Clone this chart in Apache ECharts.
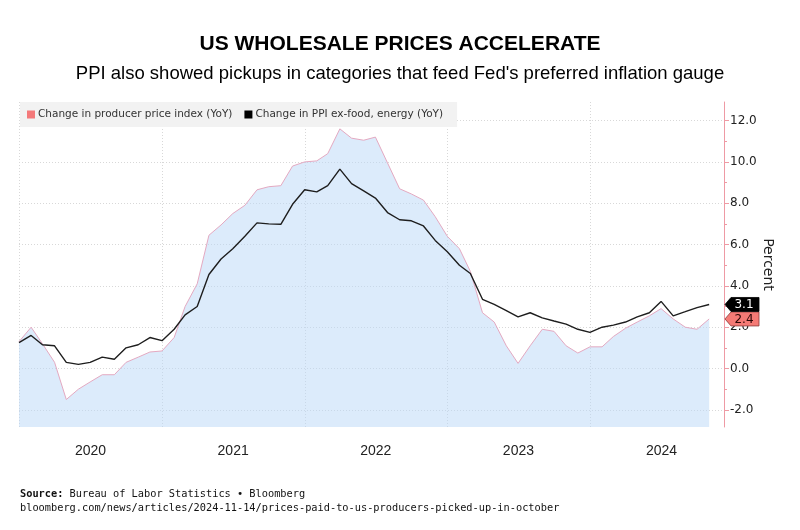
<!DOCTYPE html>
<html><head><meta charset="utf-8">
<script src="https://cdn.jsdelivr.net/npm/echarts@6/dist/echarts.min.js"></script>
<style>html,body{margin:0;padding:0;background:#fff}#c{width:800px;height:530px}</style>
</head><body><div id="c"></div>
<script>
// ---- data (month-end observations) ----
const months = [
 '2019-12',
 '2020-01','2020-02','2020-03','2020-04','2020-05','2020-06','2020-07','2020-08','2020-09','2020-10','2020-11','2020-12',
 '2021-01','2021-02','2021-03','2021-04','2021-05','2021-06','2021-07','2021-08','2021-09','2021-10','2021-11','2021-12',
 '2022-01','2022-02','2022-03','2022-04','2022-05','2022-06','2022-07','2022-08','2022-09','2022-10','2022-11','2022-12',
 '2023-01','2023-02','2023-03','2023-04','2023-05','2023-06','2023-07','2023-08','2023-09','2023-10','2023-11','2023-12',
 '2024-01','2024-02','2024-03','2024-04','2024-05','2024-06','2024-07','2024-08','2024-09','2024-10'
];
const ppiYoY = [
 1.3,
 2.0, 1.2, 0.3, -1.5, -1.0, -0.65, -0.3, -0.3, 0.3, 0.55, 0.8, 0.85,
 1.5, 3.0, 4.1, 6.45, 6.95, 7.5, 7.9, 8.65, 8.8, 8.85, 9.8, 10.0,
 10.05, 10.4, 11.6, 11.15, 11.05, 11.2, 9.95, 8.7, 8.45, 8.15, 7.35, 6.4,
 5.8, 4.7, 2.7, 2.25, 1.1, 0.25, 1.1, 1.9, 1.8, 1.1, 0.75, 1.05,
 1.05, 1.55, 1.95, 2.25, 2.55, 2.9, 2.4, 2.0, 1.9, 2.4
];
const coreYoY = [
 1.25,
 1.6, 1.15, 1.1, 0.3, 0.2, 0.3, 0.55, 0.45, 1.0, 1.15, 1.5, 1.35,
 1.9, 2.6, 3.0, 4.55, 5.3, 5.8, 6.4, 7.05, 7.0, 6.98, 7.95, 8.65,
 8.55, 8.85, 9.65, 8.95, 8.6, 8.25, 7.55, 7.2, 7.15, 6.9, 6.2, 5.65,
 5.0, 4.6, 3.35, 3.1, 2.8, 2.5, 2.7, 2.45, 2.3, 2.15, 1.9, 1.75,
 2.0, 2.1, 2.25, 2.5, 2.7, 3.25, 2.55, 2.75, 2.95, 3.1
];
const seriesNames = ['Change in producer price index (YoY)', 'Change in PPI ex-food, energy (YoY)'];
const yTicks = [-2, 0, 2, 4, 6, 8, 10, 12];
const yMinorTicks = [-1, 1, 3, 5, 7, 9, 11];
const yearLabels = [2020, 2021, 2022, 2023, 2024];
const yearLines = [2020, 2021, 2022, 2023, 2024];

const titleText = 'US WHOLESALE PRICES ACCELERATE';
const subtitleText = "PPI also showed pickups in categories that feed Fed's preferred inflation gauge";
const sourceText = 'Bureau of Labor Statistics \u2022 Bloomberg';
const urlText = 'bloomberg.com/news/articles/2024-11-14/prices-paid-to-us-producers-picked-up-in-october';

// ---- helpers ----
function monthEnd(s) { const p = s.split('-').map(Number); return Date.UTC(p[0], p[1], 0); }
const ts = months.map(monthEnd);
const xMin = Date.UTC(2019, 11, 31);
const xMax = Date.UTC(2024, 11, 8);
const yMin = -2.83, yMax = 12.9;

const axisRed = '#EE9AA4';
const gridGray = '#d8d8d8';

const chart = echarts.init(document.getElementById('c'), null, { renderer: 'canvas' });

const option = {
  backgroundColor: '#ffffff',
  animation: false,
  grid: { left: 19, right: 76, top: 102, bottom: 103, containLabel: false },
  legend: {
    left: 20, top: 102,
    padding: [7, 14, 7, 7],
    backgroundColor: '#f2f2f2',
    itemWidth: 8, itemHeight: 8, itemGap: 12,
    icon: 'rect',
    selectedMode: false,
    textStyle: { fontFamily: 'DejaVu Sans', fontSize: 10.5, color: '#333', padding: [0, 0, 0, -2] },
    data: [
      { name: seriesNames[0], itemStyle: { color: '#F4797A', borderWidth: 0 } },
      { name: seriesNames[1], itemStyle: { color: '#000000', borderWidth: 0 } }
    ]
  },
  xAxis: {
    type: 'value', min: xMin, max: xMax,
    axisLine: { show: false },
    axisTick: { show: false, customValues: yearLines.map(y => Date.UTC(y, 0, 1)) },
    splitLine: { show: true, lineStyle: { color: gridGray, type: [1, 2], width: 1 } },
    axisLabel: {
      customValues: yearLabels.map(y => Date.UTC(y, 6, 1)),
      formatter: v => String(new Date(v).getUTCFullYear()),
      fontFamily: 'Liberation Sans', fontSize: 14, color: '#222', margin: 17
    }
  },
  yAxis: [
    {
      type: 'value', position: 'right', min: yMin, max: yMax,
      axisLine: { show: true, lineStyle: { color: axisRed, width: 1 } },
      axisTick: { show: true, customValues: yTicks, length: 5, lineStyle: { color: axisRed } },
      axisLabel: {
        customValues: yTicks, formatter: v => Number(v).toFixed(1),
        fontFamily: 'DejaVu Sans', fontSize: 12, color: '#222', margin: 6
      },
      splitLine: { show: true, lineStyle: { color: gridGray, type: [1, 2], width: 1 } },
      name: 'Percent', nameLocation: 'middle', nameRotate: -90, nameGap: 37, nameMoveOverlap: false,
      nameTextStyle: { fontFamily: 'DejaVu Sans', fontSize: 14, color: '#222' }
    },
    {
      type: 'value', position: 'right', min: yMin, max: yMax,
      axisLine: { show: false },
      axisTick: { show: true, customValues: yMinorTicks, length: 3, lineStyle: { color: axisRed } },
      axisLabel: { show: false },
      splitLine: { show: false }
    }
  ],
  series: [
    {
      name: seriesNames[0], type: 'line', yAxisIndex: 0,
      data: ts.map((t, i) => [t, ppiYoY[i]]),
      showSymbol: false, symbol: 'none',
      itemStyle: { color: '#F4797A' },
      lineStyle: { color: '#E4A9C1', width: 1 },
      areaStyle: { color: 'rgba(185,215,248,0.72)', origin: 'start' },
      z: 2
    },
    {
      name: seriesNames[1], type: 'line', yAxisIndex: 0,
      data: ts.map((t, i) => [t, coreYoY[i]]),
      showSymbol: false, symbol: 'none',
      itemStyle: { color: '#000000' },
      lineStyle: { color: '#1e1e1e', width: 1.4 },
      z: 3
    }
  ]
};
chart.setOption(option);

// ---- tags and texts ----
const axisX = chart.convertToPixel({ xAxisIndex: 0 }, xMax);
function tag(value, fill, stroke, textColor) {
  const y = chart.convertToPixel({ yAxisIndex: 0 }, value);
  const x0 = axisX + 1;
  return [
    { type: 'polygon', z: 100, shape: { points: [[x0, y], [x0 + 6, y - 7], [x0 + 34, y - 7], [x0 + 34, y + 7], [x0 + 6, y + 7]] },
      style: { fill: fill, stroke: stroke, lineWidth: 0.8 } },
    { type: 'text', z: 101, x: x0 + 19, y: y + 0.5,
      style: { text: value.toFixed(1), fill: textColor, font: '12px "DejaVu Sans"', align: 'center', verticalAlign: 'middle' } }
  ];
}
const lastCore = coreYoY[coreYoY.length - 1];
const lastPpi = ppiYoY[ppiYoY.length - 1];
const graphics = [
  { type: 'text', x: 400, y: 44, style: { text: titleText, font: 'bold 21px "Liberation Sans"', fill: '#000', align: 'center', verticalAlign: 'middle' } },
  { type: 'text', x: 400, y: 74, style: { text: subtitleText, font: '18.5px "Liberation Sans"', fill: '#000', align: 'center', verticalAlign: 'middle' } },
  { type: 'text', x: 20, y: 494, style: { text: '{b|Source:} ' + sourceText, font: '10.3px "DejaVu Sans Mono"', fill: '#111', verticalAlign: 'middle',
      rich: { b: { fontWeight: 'bold', fontFamily: 'DejaVu Sans Mono', fontSize: 10.3, fill: '#111' } } } },
  { type: 'text', x: 20, y: 508, style: { text: urlText, font: '10.3px "DejaVu Sans Mono"', fill: '#111', verticalAlign: 'middle' } }
].concat(tag(lastPpi, '#F47A75', '#8a3a3a', '#2a0505'), tag(lastCore, '#000000', '#000000', '#ffffff'));
chart.setOption({ graphic: graphics });
</script>
</body></html>
